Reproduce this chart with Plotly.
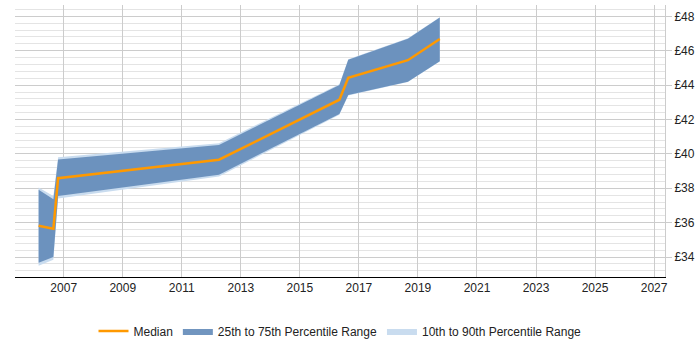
import plotly.graph_objects as go

years = [2006.15, 2006.65, 2006.81, 2012.26, 2016.34, 2016.64, 2018.66, 2019.74]
median = [35.82, 35.65, 38.59, 39.66, 43.15, 44.43, 45.45, 46.68]
p25 = [33.67, 34.0, 37.55, 38.79, 42.32, 43.42, 44.2, 45.39]
p75 = [37.91, 37.36, 39.67, 40.52, 44.01, 45.48, 46.7, 47.93]
p10 = [33.5, 33.85, 37.4, 38.68, 42.28, 43.4, 44.18, 45.37]
p90 = [38.05, 37.55, 39.8, 40.62, 44.05, 45.5, 46.72, 47.95]

xticks = list(range(2007, 2028, 2))
xticklabels = [str(y) for y in xticks]
yticks = list(range(34, 49, 2))
yticklabels = ["£%d" % v for v in yticks]

light = "#c9dcef"
dark = "rgba(98,138,184,0.9)"
orange = "#ff9900"

fig = go.Figure()
fig.add_trace(go.Scatter(x=years, y=p90, mode="lines", line=dict(width=0, color=light),
                         showlegend=False, hoverinfo="skip", legendgroup="b"))
fig.add_trace(go.Scatter(x=years, y=p10, mode="lines", line=dict(width=0, color=light),
                         fill="tonexty", fillcolor=light, name="10th to 90th Percentile Range",
                         legendgroup="b", legendrank=3))
fig.add_trace(go.Scatter(x=years, y=p75, mode="lines", line=dict(width=0, color=dark),
                         showlegend=False, hoverinfo="skip", legendgroup="a"))
fig.add_trace(go.Scatter(x=years, y=p25, mode="lines", line=dict(width=0, color=dark),
                         fill="tonexty", fillcolor=dark, name="25th to 75th Percentile Range",
                         legendgroup="a", legendrank=2))
fig.add_trace(go.Scatter(x=years, y=median, mode="lines", line=dict(width=2.5, color=orange),
                         name="Median", legendrank=1))

fig.update_layout(
    width=700, height=350,
    margin=dict(l=15, r=33, t=5, b=58),
    plot_bgcolor="white", paper_bgcolor="white",
    font=dict(family="Liberation Sans, Arial, sans-serif", size=12, color="#222"),
    legend=dict(orientation="h", x=0.5, xanchor="center", y=-0.145, yanchor="top",
                font=dict(size=12), traceorder="normal", itemwidth=30),
    xaxis=dict(range=[2005.35, 2027.37], tickvals=xticks, ticktext=xticklabels,
               showgrid=True, gridcolor="#cccccc", gridwidth=1,
               showline=True, linecolor="#000000", linewidth=1,
               ticks="", zeroline=False,
               tickfont=dict(size=12)),
    yaxis=dict(range=[32.84, 48.66], side="right", tickvals=yticks, ticktext=yticklabels,
               showgrid=True, gridcolor="#cccccc", gridwidth=1,
               minor=dict(dtick=0.4, tick0=34, showgrid=True, gridcolor="#e4e4e4"),
               showline=True, linecolor="#cccccc", linewidth=1,
               ticks="outside", ticklen=6, tickcolor="#cccccc", zeroline=False,
               tickfont=dict(size=12)),
)

fig.write_html("out.html")
